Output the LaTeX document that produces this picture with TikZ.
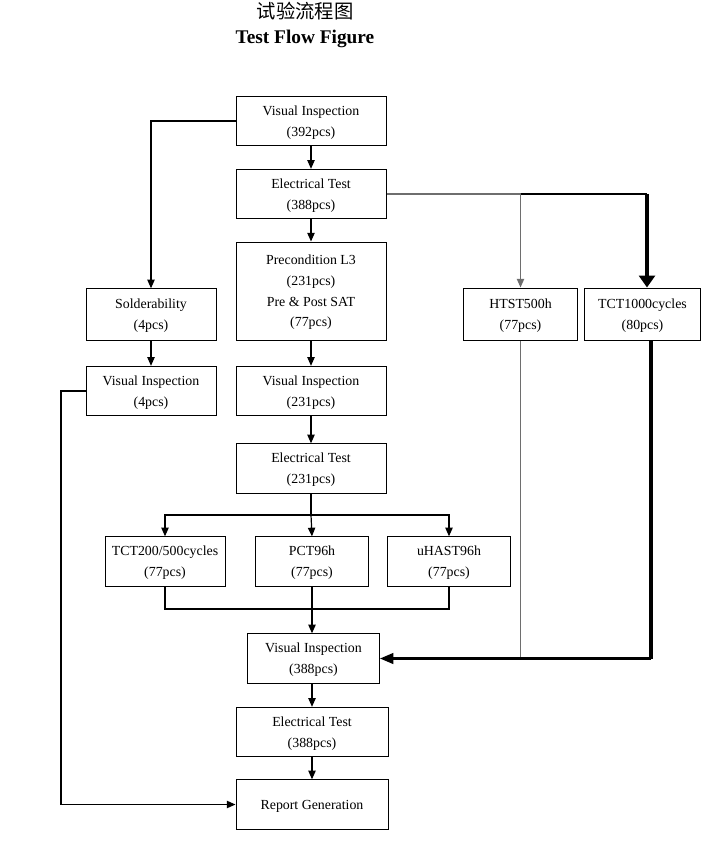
\documentclass[tikz,border=0pt]{standalone}
\usepackage{fontspec}
\setmainfont{Liberation Serif}
\newfontfamily\cjk{Noto Sans CJK SC}
\usetikzlibrary{positioning,arrows.meta}
\definecolor{lineGrey}{HTML}{6E6E6E}
\def\bw{112.5pt}   % wide box  (150px)
\def\bh{37pt}      % box height (49px)

\begin{document}
\begin{tikzpicture}[
  x=0.75pt, y=-0.75pt,
  font=\fontsize{10.4}{15.5}\selectfont,
  >={Triangle[length=6.5pt,width=5.5pt]},
  stepbox/.style={draw, line width=0.75pt, align=center, inner sep=0pt,
                  minimum width=\bw, minimum height=\bh, text depth=-1.5pt},
  link/.style={line width=0.9pt},
  greylink/.style={line width=0.9pt, draw=lineGrey},
  heavy/.style={line width=2.4pt},
]
\useasboundingbox (0,0) rectangle (701,852);

% ---------- title ----------
\node (cntitle) at (305,11) {\cjk\fontsize{14.5}{16}\selectfont 试验流程图};
\node[font=\fontsize{14.5}{16}\selectfont\bfseries] (entitle) at (305,39) {Test Flow Figure};

% =====================================================================
% MAIN COLUMN
% =====================================================================
\node[stepbox] (vi1) at (311,121) {Visual Inspection\\(392pcs)};
\node[stepbox] (et1) at (311,194) {Electrical Test\\(388pcs)};
\node[stepbox, minimum height=73.5pt] (pre) at (311,291)
     {Precondition L3\\(231pcs)\\Pre \& Post SAT\\(77pcs)};
\node[stepbox] (vi2) at (311,391) {Visual Inspection\\(231pcs)};
\node[stepbox] (et2) at (311,468.5) {Electrical Test\\(231pcs)};

% ---------- reliability tests ----------
\node[stepbox, minimum width=90pt] (tct2) at (165,561.5) {TCT200/500cycles\\(77pcs)};
\node[stepbox, minimum width=85pt] (pct)  at (312,561.5) {PCT96h\\(77pcs)};
\node[stepbox, minimum width=92pt] (uhast) at (449,561.5) {uHAST96h\\(77pcs)};

\node[stepbox, minimum width=99pt] (vi3) at (313.5,658.5) {Visual Inspection\\(388pcs)};
\node[stepbox, minimum width=114pt] (et3) at (312,732) {Electrical Test\\(388pcs)};
\node[stepbox, minimum width=114pt] (rep) at (312,804.5) {Report Generation};

% =====================================================================
% SIDE COLUMNS
% =====================================================================
\node[stepbox, minimum width=97.5pt, minimum height=38.5pt] (sold) at (151,314.5) {Solderability\\(4pcs)};
\node[stepbox, minimum width=97.5pt] (vi4) at (151,391) {Visual Inspection\\(4pcs)};
\node[stepbox, minimum width=86pt, minimum height=39pt] (htst) at (520.5,314) {HTST500h\\(77pcs)};
\node[stepbox, minimum width=87pt, minimum height=39pt] (tctk) at (642.5,314) {TCT1000cycles\\(80pcs)};

% ---------- helper points ----------
\coordinate (tr)  at (647,194);
\coordinate (br)  at (651,658.5);
\coordinate (lx)  at (61,0);
\coordinate (bt)  at (311,515);
\coordinate (mg)  at (311,609);

% =====================================================================
% CONNECTORS
% =====================================================================
\draw[link,->] (vi1) -- (et1);
\draw[link,->] (et1) -- (pre);
\draw[link,->] (pre) -- (vi2);
\draw[link,->] (vi2) -- (et2);
\draw[link,->] (vi1.west) -| (sold.north);
\draw[link,->] (sold) -- (vi4);
\draw[link,->] (vi4.west) -- (vi4.west -| lx) |- (rep.west);

% fan out to the three tests
\draw[link] (et2.south) -- (bt);
\draw[link,->] (bt) -| (tct2.north);
\draw[link,->] (bt) -- (pct.north);
\draw[link,->] (bt) -| (uhast.north);

% merge back
\draw[link] (tct2.south) |- (mg) -| (uhast.south);
\draw[link,->] (pct.south) -- (pct.south |- vi3.north);
\draw[link,->] (et3.north |- vi3.south) -- (et3.north);
\draw[link,->] (et3) -- (rep);

% right branches
\draw[greylink] (et1.east) -- (et1.east -| htst.north);
\draw[link] (et1.east -| htst.north) -- (tr);
\draw[greylink,->] (et1.east -| htst.north) -- (htst.north);
\draw[heavy,-{Triangle[length=9pt,width=12pt]}] (tr) -- (tr |- tctk.north);
\draw[greylink] (htst.south) -- (htst.south |- br);
\draw[heavy] (br |- tctk.south) -- (br);
\draw[line width=1.6pt,-{Triangle[length=10pt,width=8pt]}] (br) -- (vi3.east);

\end{tikzpicture}
\end{document}
